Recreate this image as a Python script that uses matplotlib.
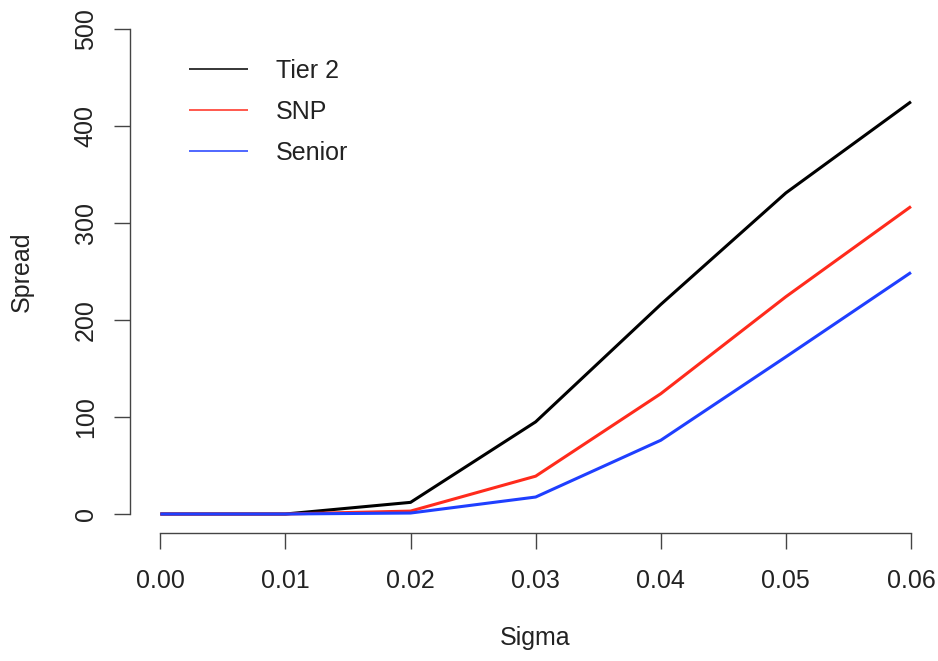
import matplotlib
matplotlib.use("Agg")
import matplotlib.pyplot as plt

# ============================================================
# DATA
# ============================================================

sigma = [0.00, 0.01, 0.02, 0.03, 0.04, 0.05, 0.06]

tier2 = [0, 0, 12, 95, 216, 331, 425]
snp = [0, 0, 3, 39, 124, 224, 317]
senior = [0, 0, 1, 17.5, 76, 162, 249]

series_names = ["Tier 2", "SNP", "Senior"]
series_colors = ["#000000", "#ff2b1c", "#1f3fff"]

x_ticks = [0.00, 0.01, 0.02, 0.03, 0.04, 0.05, 0.06]
y_ticks = [0, 100, 200, 300, 400, 500]

# ============================================================
# PLOT
# ============================================================

plt.rcParams["font.family"] = ["Liberation Sans", "DejaVu Sans"]

W, H = 938, 661
fig = plt.figure(figsize=(W / 100, H / 100), dpi=100)

left, right = 130.3, 941.0
top, bottom = 9.6, 533.4
ax = fig.add_axes([
    left / W,
    1 - bottom / H,
    (right - left) / W,
    (bottom - top) / H
])

for vals, name, col in zip([tier2, snp, senior], series_names, series_colors):
    ax.plot(sigma, vals, color=col, lw=2.2, label=name,
            solid_joinstyle="miter", solid_capstyle="butt")

ax.set_xlim(-0.0024, 0.0624)
ax.set_ylim(-20, 520)

for s in ["top", "right"]:
    ax.spines[s].set_visible(False)
ax.spines["left"].set_bounds(0, 500)
ax.spines["bottom"].set_bounds(0, 0.06)
for s in ["left", "bottom"]:
    ax.spines[s].set_color("#444444")
    ax.spines[s].set_linewidth(1.0)

ax.set_xticks(x_ticks)
ax.set_xticklabels([f"{v:.2f}" for v in x_ticks])
ax.set_yticks(y_ticks)
ax.set_yticklabels([str(v) for v in y_ticks], rotation=90, va="center")

ax.tick_params(axis="both", length=11.5, width=1.0, color="#444444",
               labelsize=18, labelcolor="#222222")
ax.tick_params(axis="x", pad=14)
ax.tick_params(axis="y", pad=12)

fig.text(535.6 / W, 1 - 638 / H, "Sigma", fontsize=18, color="#222222",
         ha="center", va="center")
fig.text(22 / W, 1 - 271.5 / H, "Spread", fontsize=18, color="#222222",
         ha="center", va="center", rotation=90)

leg = ax.legend(
    loc="upper left",
    bbox_to_anchor=(189 / W, 1 - 59 / H),
    bbox_transform=fig.transFigure,
    frameon=False,
    fontsize=18,
    handlelength=2.36,
    handletextpad=1.12,
    labelspacing=0.67,
    borderpad=0,
    borderaxespad=0,
)
for line in leg.get_lines():
    line.set_linewidth(1.1)
for t in leg.get_texts():
    t.set_color("#222222")

plt.savefig("out.png", dpi=100)
